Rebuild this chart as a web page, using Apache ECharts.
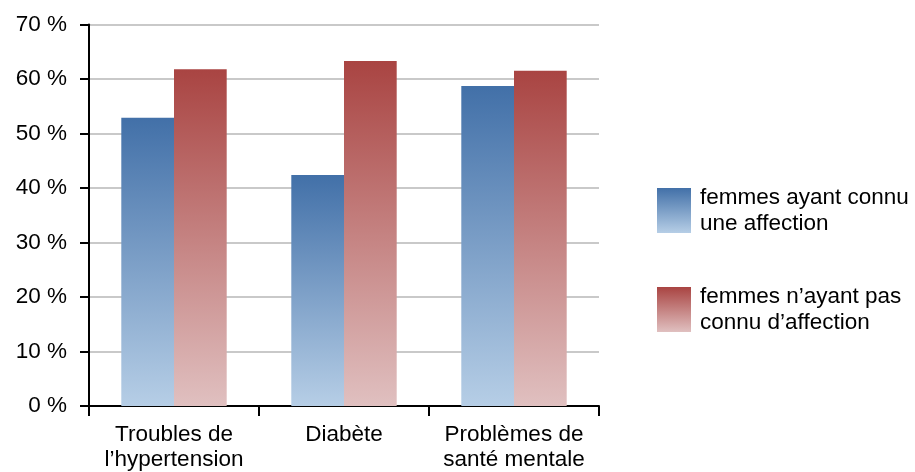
<!DOCTYPE html>
<html><head><meta charset="utf-8">
<script src="https://cdn.jsdelivr.net/npm/echarts@6/dist/echarts.min.js"></script>
<style>html,body{margin:0;padding:0;background:#fff}#c{width:915px;height:472px}</style>
</head><body><div id="c"></div>
<script>
const categories = ['Troubles de\nl\u2019hypertension', 'Diabète', 'Problèmes de\nsanté mentale'];
const seriesNames = ['femmes ayant connu\nune affection', 'femmes n\u2019ayant pas\nconnu d\u2019affection'];
const withCondition = [52.9, 42.4, 58.7];
const withoutCondition = [61.8, 63.3, 61.5];
const yTicks = [0, 10, 20, 30, 40, 50, 60, 70];

const font = '"Liberation Sans", Arial, Helvetica, sans-serif';
function grad(top, bottom) {
  return new echarts.graphic.LinearGradient(0, 0, 0, 1, [
    { offset: 0, color: top }, { offset: 1, color: bottom }
  ]);
}
const chart = echarts.init(document.getElementById('c'), null, { renderer: 'canvas' });
chart.setOption({
  animation: false,
  backgroundColor: '#fff',
  grid: { left: 89, right: 316, top: 24.5, bottom: 63, containLabel: false },
  legend: {
    orient: 'vertical', left: 652, top: 177.5,
    itemWidth: 34, itemHeight: 45, itemGap: 43,
    icon: 'rect',
    textStyle: { fontFamily: font, fontSize: 22.5, color: '#000', lineHeight: 26, padding: [4, 0, 0, 4] },
    data: seriesNames
  },
  xAxis: {
    type: 'category', data: categories,
    axisLine: { lineStyle: { color: '#000', width: 2 } },
    axisTick: { show: true, length: 10, lineStyle: { color: '#000', width: 2 } },
    axisLabel: { fontFamily: font, fontSize: 22.5, color: '#000', lineHeight: 25, margin: 16, interval: 0 }
  },
  yAxis: {
    type: 'value', min: yTicks[0], max: yTicks[yTicks.length - 1], interval: 10,
    axisLine: { show: true, lineStyle: { color: '#000', width: 2 } },
    axisTick: { show: true, length: 9, lineStyle: { color: '#000', width: 2 } },
    axisLabel: { fontFamily: font, fontSize: 22.5, color: '#000', margin: 22, formatter: v => v + ' %' },
    splitLine: { lineStyle: { color: '#c9c9c9', width: 2 } }
  },
  series: [
    { name: seriesNames[0], type: 'bar', data: withCondition, barCategoryGap: '38%', barGap: '0%',
      itemStyle: { color: grad('#4270a8', '#b6cee6') } },
    { name: seriesNames[1], type: 'bar', data: withoutCondition, barCategoryGap: '38%', barGap: '0%',
      itemStyle: { color: grad('#a94442', '#e0c0c0') } }
  ]
});
</script></body></html>
